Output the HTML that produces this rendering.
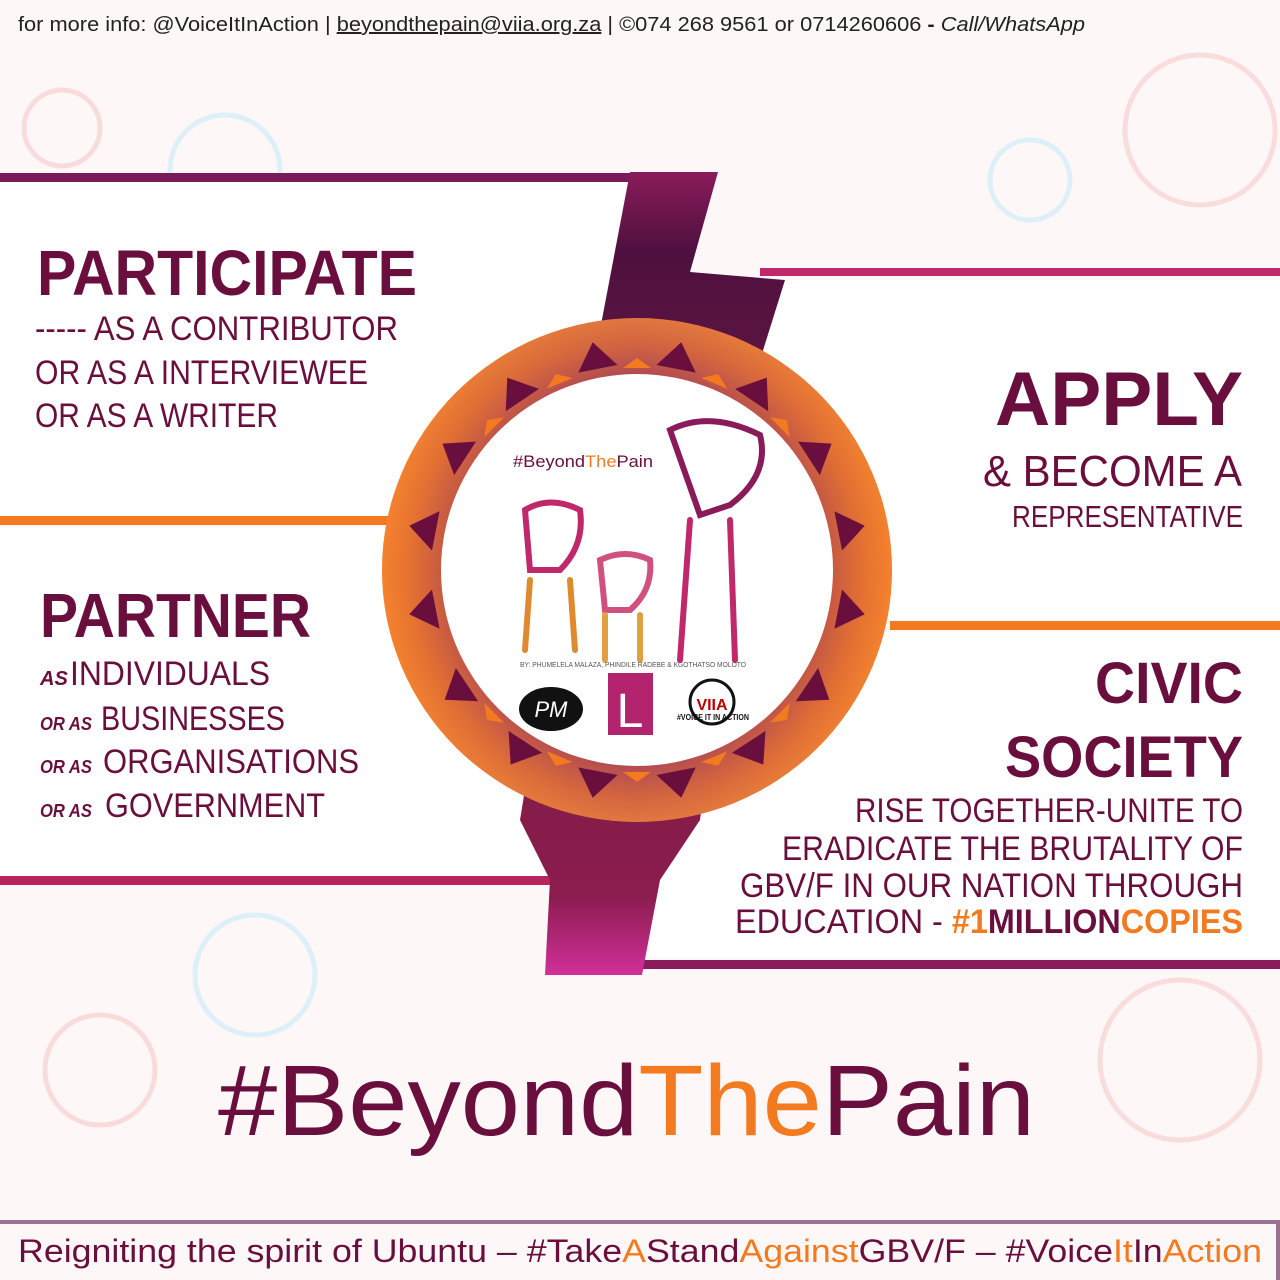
<!DOCTYPE html>
<html><head><meta charset="utf-8"><style>
html,body{margin:0;padding:0;width:1280px;height:1280px;overflow:hidden;background:#fdf7f8}
svg{display:block}
text{font-family:"Liberation Sans",sans-serif}
</style></head><body>
<svg width="1280" height="1280" viewBox="0 0 1280 1280" xmlns="http://www.w3.org/2000/svg">
<defs>
<linearGradient id="band" x1="0" y1="0" x2="0" y2="1">
<stop offset="0" stop-color="#8a1b5a"/><stop offset="0.1" stop-color="#4e1040"/><stop offset="0.5" stop-color="#7a1d3e"/><stop offset="0.9" stop-color="#8a1c4e"/><stop offset="1" stop-color="#d0309a"/>
</linearGradient>
<radialGradient id="ring" cx="0.5" cy="0.5" r="0.5">
<stop offset="0.75" stop-color="#a8445a"/><stop offset="0.9" stop-color="#e0703a"/><stop offset="1" stop-color="#f58a3a"/>
</radialGradient>
<linearGradient id="ringx" x1="0" y1="0" x2="1" y2="0">
<stop offset="0" stop-color="#f47a20"/><stop offset="0.5" stop-color="#b04a50" stop-opacity="0.6"/><stop offset="1" stop-color="#f47a20"/>
</linearGradient>
</defs>
<rect width="1280" height="1280" fill="#fdf7f8"/>
<g fill="none" stroke-width="5">
<circle cx="62" cy="128" r="38" stroke="#f8dcdc"/><circle cx="225" cy="170" r="55" stroke="#ddf0f8"/>
<circle cx="1200" cy="130" r="75" stroke="#f9dcdc"/><circle cx="1030" cy="180" r="40" stroke="#ddf0f8"/>
<circle cx="255" cy="975" r="60" stroke="#ddf0f8"/><circle cx="100" cy="1070" r="55" stroke="#f8dcdc"/>
<circle cx="1180" cy="1060" r="80" stroke="#f9dcdc"/>
</g>
<polygon points="0,182 632,182 690,330 660,520 0,520" fill="#fff"/>
<polygon points="0,528 400,528 560,880 0,880" fill="#fff"/>
<polygon points="760,280 1280,280 1280,620 700,620" fill="#fff"/>
<polygon points="700,632 1280,632 1280,958 645,958" fill="#fff"/>
<rect x="0" y="173" width="640" height="9" fill="#7a1a5a"/>
<rect x="760" y="268" width="520" height="8" fill="#c0286a"/>
<rect x="0" y="516" width="390" height="9" fill="#f47a20"/>
<rect x="890" y="621" width="390" height="9" fill="#f47a20"/>
<rect x="0" y="876" width="550" height="9" fill="#b8245e"/>
<rect x="640" y="960" width="640" height="9" fill="#8a1b5a"/>
<polygon points="630,172 718,172 690,272 785,280 760,360 700,820 660,880 642,975 545,975 550,880 520,820 600,330" fill="url(#band)"/>
<ellipse cx="637" cy="570" rx="255" ry="252" fill="url(#ring)"/>
<ellipse cx="637" cy="570" rx="255" ry="252" fill="url(#ringx)" opacity="0.5"/>
<g transform="translate(637,570)">
<g fill="#6a0f3d">
<polygon points="-20,-205 20,-205 0,-232" transform="rotate(11)"/><polygon points="-20,-205 20,-205 0,-232" transform="rotate(-11)"/>
<polygon points="-20,-205 20,-205 0,-232" transform="rotate(34)"/><polygon points="-20,-205 20,-205 0,-232" transform="rotate(-34)"/>
<polygon points="-20,-205 20,-205 0,-232" transform="rotate(57)"/><polygon points="-20,-205 20,-205 0,-232" transform="rotate(-57)"/>
<polygon points="-20,-205 20,-205 0,-232" transform="rotate(79)"/><polygon points="-20,-205 20,-205 0,-232" transform="rotate(-79)"/>
<polygon points="-20,-205 20,-205 0,-232" transform="rotate(101)"/><polygon points="-20,-205 20,-205 0,-232" transform="rotate(-101)"/>
<polygon points="-20,-205 20,-205 0,-232" transform="rotate(124)"/><polygon points="-20,-205 20,-205 0,-232" transform="rotate(-124)"/>
<polygon points="-20,-205 20,-205 0,-232" transform="rotate(147)"/><polygon points="-20,-205 20,-205 0,-232" transform="rotate(-147)"/>
<polygon points="-20,-205 20,-205 0,-232" transform="rotate(169)"/><polygon points="-20,-205 20,-205 0,-232" transform="rotate(-169)"/>
</g>
<g fill="#f47a20">
<polygon points="-14,-202 14,-202 0,-212" transform="rotate(0)"/><polygon points="-14,-202 14,-202 0,-212" transform="rotate(22.5)"/>
<polygon points="-14,-202 14,-202 0,-212" transform="rotate(-22.5)"/><polygon points="-14,-202 14,-202 0,-212" transform="rotate(45)"/>
<polygon points="-14,-202 14,-202 0,-212" transform="rotate(-45)"/><polygon points="-14,-202 14,-202 0,-212" transform="rotate(135)"/>
<polygon points="-14,-202 14,-202 0,-212" transform="rotate(-135)"/><polygon points="-14,-202 14,-202 0,-212" transform="rotate(180)"/>
<polygon points="-14,-202 14,-202 0,-212" transform="rotate(157.5)"/><polygon points="-14,-202 14,-202 0,-212" transform="rotate(-157.5)"/>
</g>
</g>
<circle cx="637" cy="570" r="196" fill="#fff"/>
<text x="513" y="467" font-size="17" fill="#6a0f3d" textLength="140" lengthAdjust="spacingAndGlyphs">#Beyond<tspan fill="#f47a20">The</tspan>Pain</text>
<g stroke-linecap="round" fill="none" stroke-width="6">
<path d="M670,430 q40,-20 90,5 q10,40 -30,70 l-30,10 z" stroke="#8a1b5a"/>
<path d="M690,520 l-10,140 M730,520 l5,140" stroke="#c0286a"/>
<path d="M525,510 q25,-15 55,0 q5,35 -20,60 l-30,0 z" stroke="#c0286a"/>
<path d="M530,580 l-5,70 M570,580 l5,70" stroke="#e08a30"/>
<path d="M600,560 q25,-12 50,0 q3,30 -20,50 l-25,0 z" stroke="#d05080"/>
<path d="M605,615 l0,45 M640,615 l0,45" stroke="#e0a040"/>
</g>
<text x="520" y="667" font-size="7" fill="#555" textLength="226" lengthAdjust="spacingAndGlyphs">BY: PHUMELELA MALAZA, PHINDILE RADEBE &amp; KGOTHATSO MOLOTO</text>
<ellipse cx="551" cy="709" rx="32" ry="22" fill="#111"/>
<text x="551" y="717" font-size="22" font-style="italic" fill="#fff" text-anchor="middle" font-family="Liberation Serif">PM</text>
<rect x="608" y="673" width="45" height="62" fill="#b4246e"/>
<text x="630" y="727" font-size="48" fill="#fff" text-anchor="middle" font-family="Liberation Serif">L</text>
<circle cx="712" cy="702" r="22" fill="#fff" stroke="#111" stroke-width="3"/>
<text x="712" y="710" font-size="16" font-weight="bold" fill="#b00" text-anchor="middle">VIIA</text>
<text x="677" y="720" font-size="8" font-weight="bold" fill="#111" textLength="72" lengthAdjust="spacingAndGlyphs">#VOICE IT IN ACTION</text>
<text x="18" y="31" font-size="20" fill="#222" textLength="1067" lengthAdjust="spacingAndGlyphs">for more info: @VoiceItInAction | <tspan text-decoration="underline">beyondthepain@viia.org.za</tspan> | ©074 268 9561 or 0714260606 <tspan font-weight="bold">-</tspan> <tspan font-style="italic">Call/WhatsApp</tspan></text>
<g fill="#6a0f3d">
<text x="37" y="295" font-size="64" font-weight="bold" textLength="380" lengthAdjust="spacingAndGlyphs">PARTICIPATE</text>
<text x="35" y="340" font-size="34" textLength="363" lengthAdjust="spacingAndGlyphs">----- AS A CONTRIBUTOR</text>
<text x="35" y="384" font-size="34" textLength="333" lengthAdjust="spacingAndGlyphs">OR AS A INTERVIEWEE</text>
<text x="35" y="427" font-size="34" textLength="243" lengthAdjust="spacingAndGlyphs">OR AS A WRITER</text>
<text x="40" y="637" font-size="62" font-weight="bold" textLength="271" lengthAdjust="spacingAndGlyphs">PARTNER</text>
<text x="40" y="685" font-size="20" font-weight="bold" font-style="italic">AS</text>
<text x="70" y="685" font-size="34" textLength="200" lengthAdjust="spacingAndGlyphs">INDIVIDUALS</text>
<text x="40" y="730" font-size="18" font-weight="bold" font-style="italic" textLength="52" lengthAdjust="spacingAndGlyphs">OR AS</text>
<text x="101" y="730" font-size="34" textLength="184" lengthAdjust="spacingAndGlyphs">BUSINESSES</text>
<text x="40" y="773" font-size="18" font-weight="bold" font-style="italic" textLength="52" lengthAdjust="spacingAndGlyphs">OR AS</text>
<text x="103" y="773" font-size="34" textLength="256" lengthAdjust="spacingAndGlyphs">ORGANISATIONS</text>
<text x="40" y="817" font-size="18" font-weight="bold" font-style="italic" textLength="52" lengthAdjust="spacingAndGlyphs">OR AS</text>
<text x="105" y="817" font-size="34" textLength="220" lengthAdjust="spacingAndGlyphs">GOVERNMENT</text>
<text x="995" y="425" font-size="76" font-weight="bold" textLength="248" lengthAdjust="spacingAndGlyphs">APPLY</text>
<text x="983" y="486" font-size="44" textLength="259" lengthAdjust="spacingAndGlyphs">&amp; BECOME A</text>
<text x="1012" y="527" font-size="31" textLength="231" lengthAdjust="spacingAndGlyphs">REPRESENTATIVE</text>
<text x="1095" y="703" font-size="58" font-weight="bold" textLength="148" lengthAdjust="spacingAndGlyphs">CIVIC</text>
<text x="1005" y="777" font-size="58" font-weight="bold" textLength="238" lengthAdjust="spacingAndGlyphs">SOCIETY</text>
<text x="855" y="822" font-size="34" textLength="388" lengthAdjust="spacingAndGlyphs">RISE TOGETHER-UNITE TO</text>
<text x="782" y="860" font-size="34" textLength="461" lengthAdjust="spacingAndGlyphs">ERADICATE THE BRUTALITY OF</text>
<text x="740" y="897" font-size="34" textLength="503" lengthAdjust="spacingAndGlyphs">GBV/F IN OUR NATION THROUGH</text>
<text x="735" y="933" font-size="34" textLength="508" lengthAdjust="spacingAndGlyphs">EDUCATION - <tspan font-weight="bold" fill="#f47a20">#1</tspan><tspan font-weight="bold">MILLION</tspan><tspan font-weight="bold" fill="#f47a20">COPIES</tspan></text>
<text x="218" y="1135" font-size="100" textLength="817" lengthAdjust="spacingAndGlyphs">#Beyond<tspan fill="#f47a20">The</tspan>Pain</text>
</g>
<rect x="0" y="1220" width="1280" height="4" fill="#a07090"/>
<rect x="1276" y="1220" width="4" height="60" fill="#a07090"/>
<text x="18" y="1262" font-size="32" fill="#6a0f3d" textLength="1244" lengthAdjust="spacingAndGlyphs">Reigniting the spirit of Ubuntu – #Take<tspan fill="#f47a20">A</tspan>Stand<tspan fill="#f47a20">Against</tspan>GBV/F – #Voice<tspan fill="#f47a20">It</tspan>In<tspan fill="#f47a20">Action</tspan></text>
</svg>
</body></html>
